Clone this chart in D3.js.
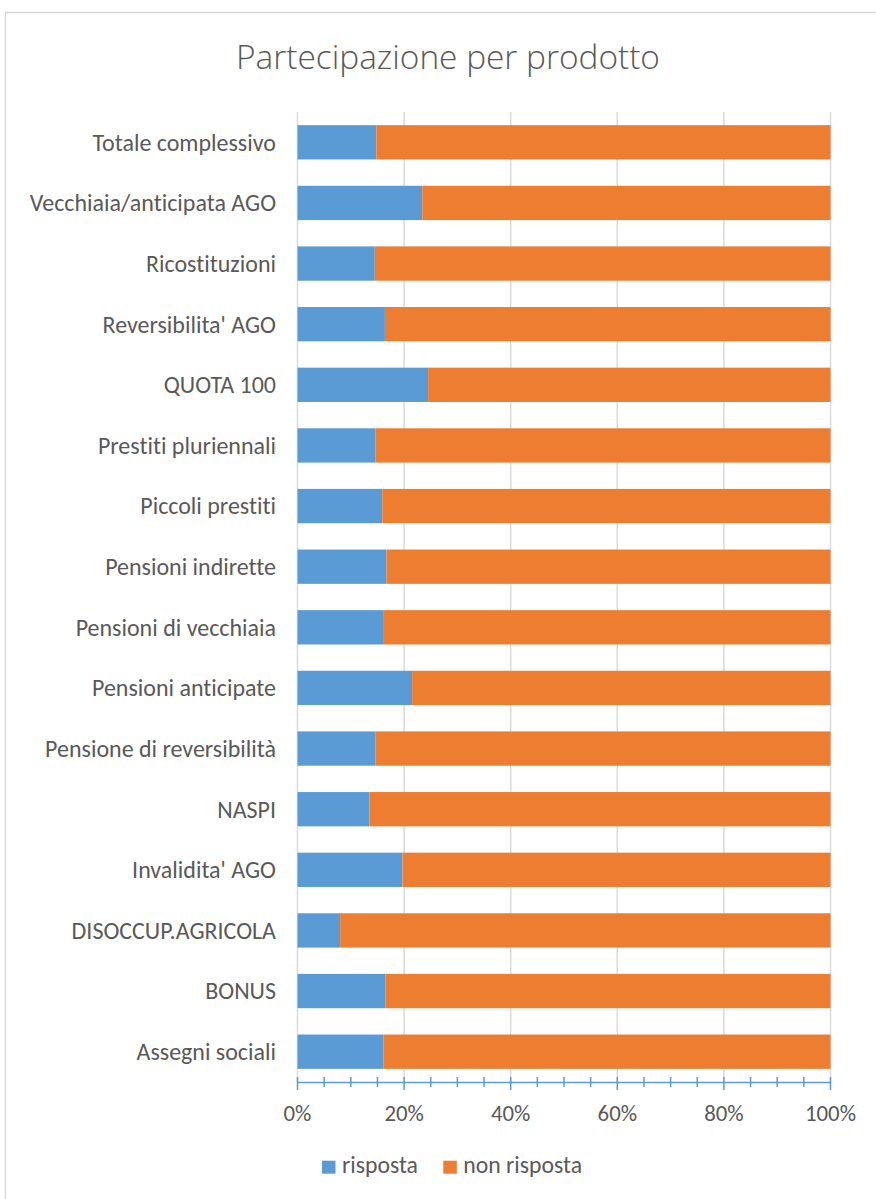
<!DOCTYPE html>
<html><head><meta charset="utf-8">
<script src="https://cdn.jsdelivr.net/npm/d3@7"></script>
<style>body{margin:0;background:#fff}svg{display:block}text{font-family:Carlito,Lato,sans-serif;fill:#595959;font-variant-ligatures:none}</style>
</head><body>
<script>
const categories = ["Totale complessivo","Vecchiaia/anticipata AGO","Ricostituzioni","Reversibilita' AGO","QUOTA 100","Prestiti pluriennali","Piccoli prestiti","Pensioni indirette","Pensioni di vecchiaia","Pensioni anticipate","Pensione di reversibilità","NASPI","Invalidita' AGO","DISOCCUP.AGRICOLA","BONUS","Assegni sociali"];
const risposta    = [14.8,23.4,14.5,16.4,24.5,14.6,15.9,16.7,16.2,21.5,14.6,13.5,19.7,8.0,16.5,16.1];
const nonRisposta = [85.2,76.6,85.5,83.6,75.5,85.4,84.1,83.3,83.8,78.5,85.4,86.5,80.3,92.0,83.5,83.9];
const tickValues = [0,20,40,60,80,100];
const tickLabels = ["0%","20%","40%","60%","80%","100%"];
const minorTicks = [0,5,10,15,20,25,30,35,40,45,50,55,60,65,70,75,80,85,90,95,100];
const seriesNames = ["risposta","non risposta"];
const colors = ["#5b9bd5","#ed7d31"];

const W=876,H=1199;
const svg=d3.select("body").append("svg").attr("width",W).attr("height",H);
svg.append("rect").attr("x",5.5).attr("y",12.5).attr("width",900).attr("height",1300)
  .attr("fill","#fff").attr("stroke","#d9d9d9").attr("stroke-width",1.5);

function fit(sel,target){const n=sel.node();let fs=parseFloat(sel.attr("font-size"));const w=n.getComputedTextLength();sel.attr("font-size",fs*target/w);return fs*target/w;}

const x=d3.scaleLinear().domain([0,100]).range([297.5,830.5]);
const y=d3.scaleBand().domain(categories).range([112,1082]).paddingInner(0.434).paddingOuter(0.217);

// title
const t=svg.append("text").attr("x",448).attr("y",69).attr("text-anchor","middle")
  .style("font-family","'Open Sans',sans-serif").attr("font-size",32).attr("font-weight",300).text("Partecipazione per prodotto");
fit(t,424);

// gridlines
svg.append("g").selectAll("line").data(tickValues).join("line")
  .attr("x1",d=>x(d)).attr("x2",d=>x(d)).attr("y1",112).attr("y2",1082)
  .attr("stroke","#d9d9d9").attr("stroke-width",1.5);

// bars
const rows=categories.map((c,i)=>({c,vals:[risposta[i],nonRisposta[i]]}));
const g=svg.append("g");
rows.forEach(r=>{
  let acc=0;
  r.vals.forEach((v,k)=>{
    g.append("rect").attr("x",x(acc)).attr("width",x(acc+v)-x(acc))
      .attr("y",y(r.c)).attr("height",y.bandwidth()).attr("fill",colors[k]);
    acc+=v;
  });
});

// category labels
const probe=svg.append("text").attr("font-size",18).text("Pensione di reversibilità");
const labFs=fit(probe,231); probe.remove();
svg.append("g").selectAll("text").data(categories).join("text")
  .attr("x",276).attr("y",d=>y(d)+y.bandwidth()/2).attr("dy","0.35em")
  .attr("text-anchor","end").attr("font-size",labFs).text(d=>d);

// axis
const ax=svg.append("g");
ax.append("line").attr("x1",x(0)).attr("x2",x(100)).attr("y1",1082.5).attr("y2",1082.5).attr("stroke","#5b9bd5").attr("stroke-width",1.5);
ax.selectAll("line.minor").data(minorTicks).join("line").attr("class","minor")
  .attr("x1",d=>x(d)).attr("x2",d=>x(d)).attr("y1",1077).attr("y2",d=>d%20===0?1090:1087)
  .attr("stroke","#5b9bd5").attr("stroke-width",1.5);
const p2=svg.append("text").attr("font-size",20).text("100%");
const tkFs=fit(p2,51); p2.remove();
ax.selectAll("text").data(tickValues).join("text")
  .attr("x",d=>x(d)).attr("y",1121).attr("text-anchor","middle").attr("font-size",tkFs)
  .text((d,i)=>tickLabels[i]);

// legend
const lg=svg.append("g");
const legX=[322,443.3];
const p3=svg.append("text").attr("font-size",20).text("risposta");
const lgFs=fit(p3,76); p3.remove();
seriesNames.forEach((s,i)=>{
  lg.append("rect").attr("x",legX[i]).attr("y",1160.7).attr("width",13.5).attr("height",13).attr("fill",colors[i]);
  lg.append("text").attr("x",legX[i]+20).attr("y",1173).attr("font-size",lgFs).text(s);
});
</script>
</body></html>
